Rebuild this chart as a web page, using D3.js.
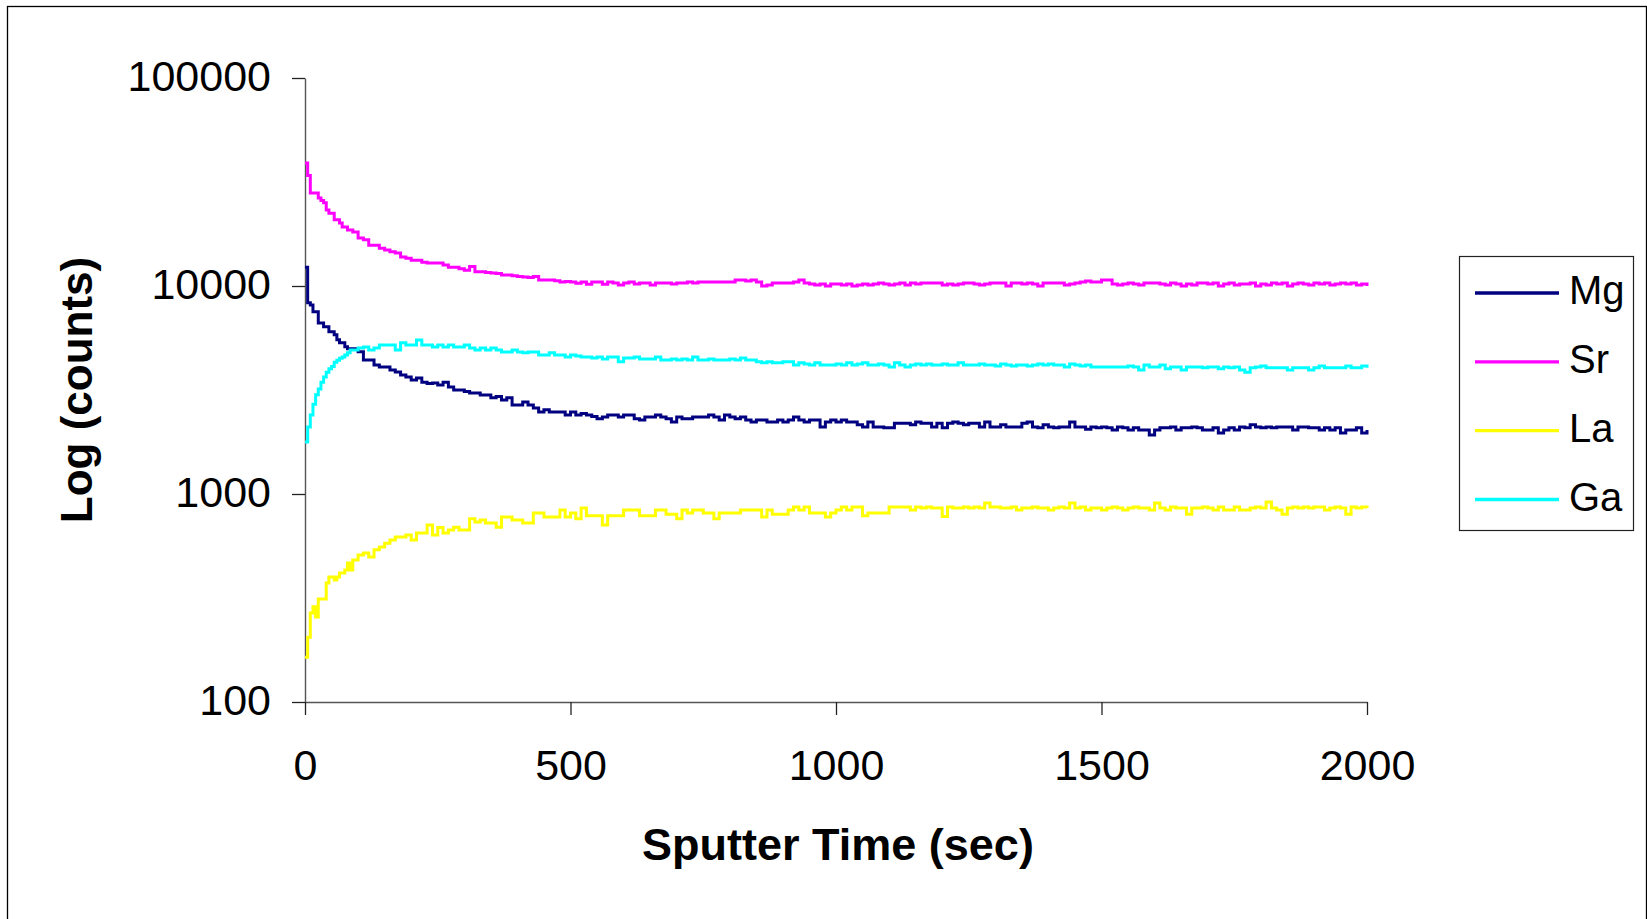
<!DOCTYPE html>
<html>
<head>
<meta charset="utf-8">
<script src="https://cdn.jsdelivr.net/npm/d3@7"></script>
<style>
  html, body { margin: 0; padding: 0; background: #fff; }
  svg { display: block; }
  text { font-family: "Liberation Sans", Arial, sans-serif; fill: #000; }
</style>
</head>
<body>
<svg id="chart" width="1647" height="919"></svg>
<script>
// ---------- DATA ----------
const seriesNames = ["Mg", "Sr", "La", "Ga"];
const seriesColors = ["#000080", "#FF00FF", "#FFFF00", "#00FFFF"];
const yTickValues = [100, 1000, 10000, 100000];
const xTickValues = [0, 500, 1000, 1500, 2000];

// sputter time (s): every 5 s up to 100 s, then every 10 s
const timeEarly = [0,5,10,15,20,25,30,35,40,45,50,55,60,65,70,75,80,85,90,95,100];
const timeLate = d3.range(110, 2001, 10);
const time = timeEarly.concat(timeLate);

const mg = [
  12300,8300,8100,7520,7520,6640,6640,6370,6370,6030,6030,5830,5510,5330,5330,5100,4990,4990,4990,4990,4830,
  4410,4410,4170,4080,4080,3950,3860,3730,3650,3530,
  3610,3450,3400,3420,3340,3450,3270,3160,3160,3110,
  3060,3060,2990,2990,2900,2940,2830,2900,2680,2680,
  2770,2680,2590,2480,2540,2480,2480,2480,2400,2480,
  2400,2440,2400,2360,2300,2345,2400,2400,2345,2400,
  2400,2300,2270,2345,2345,2400,2345,2300,2220,2345,
  2300,2300,2345,2345,2345,2400,2345,2270,2400,2345,
  2300,2345,2270,2220,2270,2270,2220,2220,2270,2220,
  2270,2345,2270,2220,2270,2270,2100,2220,2270,2220,
  2270,2220,2220,2150,2100,2220,2100,2100,2080,2080,
  2190,2190,2190,2150,2220,2190,2190,2100,2190,2080,
  2190,2220,2190,2150,2190,2190,2100,2220,2100,2100,
  2150,2100,2100,2100,2190,2220,2100,2080,2150,2100,
  2080,2100,2100,2220,2100,2100,2050,2100,2080,2100,
  2080,2030,2100,2080,2030,2080,2030,2030,1920,2030,
  2080,2080,2100,2030,2080,2080,2100,2080,2030,2030,
  2080,1965,2030,2080,2030,2100,2080,2150,2100,2080,
  2100,2080,2100,2100,2100,2030,2100,2100,2080,2080,
  2030,2080,2030,2080,1965,2030,2030,2080,1965,2030
];

const sr = [
  39000,34000,28000,28000,28000,26500,25800,25100,23200,22400,22400,20800,20800,20100,19200,19200,18600,18600,18200,18200,17000,
  16700,15700,15700,15200,14900,14600,14400,13800,13600,13300,
  13300,13000,12900,12900,12900,12600,12300,12300,12100,11900,
  12400,11700,11700,11600,11550,11500,11300,11300,11200,11100,
  11050,11000,11100,10700,10700,10700,10600,10460,10500,10460,
  10300,10460,10200,10460,10460,10200,10460,10340,10100,10340,
  10460,10220,10340,10340,10100,10340,10340,10340,10220,10340,
  10340,10460,10340,10460,10460,10460,10460,10460,10460,10460,
  10690,10690,10570,10690,10460,10000,10110,10340,10340,10340,
  10340,10460,10690,10340,10220,10110,10220,10000,10220,10220,
  10110,10220,10000,10110,10220,10110,10220,10340,10220,10110,
  10220,10340,10110,10340,10220,10340,10340,10340,10340,10110,
  10220,10110,10220,10340,10340,10220,10110,10220,10340,10340,
  10340,10000,10340,10340,10220,10340,10220,10000,10340,10340,
  10340,10340,10110,10220,10340,10460,10570,10460,10460,10690,
  10690,10220,10110,10220,10340,10220,10110,10340,10340,10340,
  10220,10110,10340,10220,10000,10220,10110,10340,10340,10220,
  10340,10000,10220,10340,10110,10220,10220,10340,10000,10220,
  10110,10340,10220,10340,10000,10220,10340,10220,10110,10340,
  10220,10340,10110,10220,10340,10220,10340,10110,10220,10000
];

const la = [
  164,205,268,287,256,313,313,313,373,399,399,386,399,417,417,431,466,431,482,482,509,
  520,498,540,556,580,601,621,621,635,601,
  649,649,710,635,690,649,671,693,671,671,
  760,733,750,726,726,693,775,775,750,750,
  726,726,811,811,775,775,775,837,775,811,
  760,857,786,786,786,710,786,786,786,837,
  837,837,786,786,786,837,837,800,800,760,
  837,811,837,837,811,811,760,811,811,811,
  811,837,837,837,837,775,837,800,800,800,
  837,866,837,866,811,811,811,775,811,837,
  866,837,866,866,786,811,811,811,811,866,
  866,866,866,837,866,857,866,857,857,780,
  866,857,857,866,857,866,857,906,866,866,
  857,857,866,837,857,857,866,857,857,837,
  857,866,857,906,857,866,837,857,857,837,
  857,866,857,837,857,866,857,857,837,906,
  857,837,866,857,857,800,857,857,866,857,
  837,866,837,837,866,837,837,857,866,857,
  915,857,837,800,857,866,857,866,857,866,
  866,837,857,866,857,800,866,857,866,857
];

const ga = [
  1780,2100,2400,2700,3000,3200,3450,3650,3850,4000,4100,4300,4400,4500,4560,4660,4770,4920,4920,4920,5030,
  5090,4920,5030,5200,5200,5200,4920,5330,5200,5200,
  5500,5200,5200,5090,5200,5090,5200,5090,5090,5200,
  5030,4920,5030,4920,5030,4920,4820,4820,4920,4820,
  4770,4820,4820,4660,4660,4770,4660,4660,4560,4660,
  4610,4560,4560,4510,4560,4460,4560,4560,4320,4510,
  4510,4560,4460,4460,4460,4560,4410,4410,4460,4410,
  4460,4410,4560,4410,4410,4460,4410,4410,4410,4460,
  4410,4510,4410,4410,4320,4270,4320,4270,4270,4320,
  4320,4170,4270,4220,4170,4270,4170,4170,4170,4220,
  4170,4270,4170,4220,4270,4170,4170,4220,4170,4080,
  4270,4170,4080,4170,4220,4170,4220,4170,4170,4220,
  4170,4170,4270,4170,4170,4170,4220,4170,4170,4120,
  4220,4170,4120,4170,4170,4120,4170,4220,4170,4220,
  4170,4170,4080,4220,4170,4120,4170,4080,4080,4080,
  4080,4080,4080,4080,4120,4080,3950,4170,4080,4080,
  4170,4000,4080,4080,3950,4080,4080,4080,4040,4080,
  4080,4000,4080,4040,4080,3950,3850,4040,4080,4120,
  4040,4040,4040,4040,3950,4040,4040,4040,3950,4040,
  4120,4040,4040,4040,4040,4120,4040,4040,4120,4040
];

const seriesValues = [mg, sr, la, ga];

// ---------- LAYOUT ----------
const svg = d3.select("#chart");
const plotLeft = 305, plotRight = 1367, plotTop = 78, plotBottom = 702;

const x = d3.scaleLinear().domain([0, 2000]).range([plotLeft, plotRight]);
const y = d3.scaleLog().domain([100, 100000]).range([plotBottom, plotTop]);

// outer border
svg.append("rect")
  .attr("x", 7.5).attr("y", 6.5)
  .attr("width", 1639).attr("height", 930)
  .attr("fill", "none").attr("stroke", "#000").attr("stroke-width", 1.3);

// axes
const yAxis = d3.axisLeft(y)
  .tickValues(yTickValues)
  .tickFormat(d3.format("d"))
  .tickSize(13).tickSizeOuter(0).tickPadding(21);
const xAxis = d3.axisBottom(x)
  .tickValues(xTickValues)
  .tickFormat(d3.format("d"))
  .tickSize(13).tickSizeOuter(0).tickPadding(34);

const gy = svg.append("g").attr("transform", `translate(${plotLeft},0)`).call(yAxis);
const gx = svg.append("g").attr("transform", `translate(0,${plotBottom})`).call(xAxis);

[gx, gy].forEach(g => {
  g.select(".domain").attr("stroke", "#555").attr("stroke-width", 1.4);
  g.selectAll(".tick line").attr("stroke", "#222").attr("stroke-width", 1.3);
  g.selectAll(".tick text")
    .style("font-family", '"Liberation Sans", Arial, sans-serif')
    .style("font-size", "43px")
    .attr("fill", "#000");
});
gy.selectAll(".tick text").attr("dy", "0.29em");

// lines
const line = d3.line()
  .x(d => x(d[0]))
  .y(d => y(d[1]))
  .curve(d3.curveStepAfter);

seriesNames.forEach((name, i) => {
  const vals = seriesValues[i];
  const pts = time.map((t, j) => [t, vals[j]]).filter(p => p[1] != null);
  svg.append("path")
    .datum(pts)
    .attr("fill", "none")
    .attr("stroke", seriesColors[i])
    .attr("stroke-width", 3)
    .attr("stroke-linejoin", "miter")
    .attr("d", line);
});

// axis titles
svg.append("text")
  .attr("x", 838).attr("y", 860)
  .attr("text-anchor", "middle")
  .style("font-size", "45px").style("font-weight", "bold")
  .text("Sputter Time (sec)");

svg.append("text")
  .attr("transform", "translate(92,390) rotate(-90)")
  .attr("text-anchor", "middle")
  .style("font-size", "44px").style("font-weight", "bold")
  .text("Log (counts)");

// legend
const legend = svg.append("g");
legend.append("rect")
  .attr("x", 1459.5).attr("y", 256.5)
  .attr("width", 174).attr("height", 274)
  .attr("fill", "#fff").attr("stroke", "#222").attr("stroke-width", 1.2);

const legendY = d3.scalePoint().domain(seriesNames).range([293, 499.5]);
seriesNames.forEach((name, i) => {
  const ly = legendY(name);
  legend.append("line")
    .attr("x1", 1475).attr("x2", 1559)
    .attr("y1", ly).attr("y2", ly)
    .attr("stroke", seriesColors[i]).attr("stroke-width", 3.3);
  legend.append("text")
    .attr("x", 1569).attr("y", ly + 11)
    .style("font-size", "40px")
    .text(name);
});
</script>
</body>
</html>
